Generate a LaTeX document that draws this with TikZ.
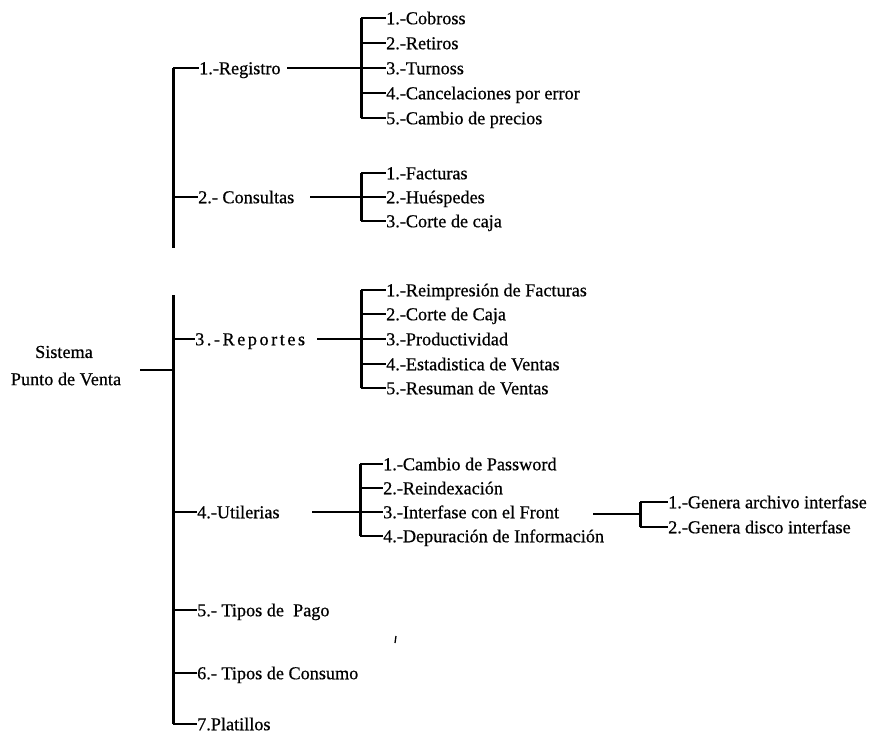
\documentclass[tikz,border=0pt]{standalone}
\usepackage{fontspec}
\setmainfont{Liberation Serif}
\newcommand{\chartfont}{\fontsize{18.2}{21}\selectfont\addfontfeature{FakeBold=0.6}}
\begin{document}
\begin{tikzpicture}[x=1pt,y=-1pt,
  lbl/.style={anchor=west,inner sep=0pt,text height=12.5pt,text depth=0pt,
              font=\chartfont},
  rootlbl/.style={inner sep=0pt,font=\chartfont},
  spaced/.style={font=\chartfont\addfontfeature{LetterSpace=14}},
  wire/.style={line width=2.3pt},
  trunk/.style={line width=3pt}]
\useasboundingbox (0,0) rectangle (878,740);

% ---------- root ----------
\node[rootlbl] (root1) at (64,352) {Sistema};
\node[rootlbl] (root2) at (66,379) {Punto de Venta};
\coordinate (rootout) at (140,370);
\coordinate (jroot) at (173,370);
\draw[wire] (rootout) -- (jroot);

% ---------- main trunk (two segments) ----------
\coordinate (ttop) at (173,68);
\coordinate (tmid) at (173,248);
\coordinate (btop) at (173,295);
\coordinate (bbot) at (173,724);
\draw[trunk] (ttop) -- (tmid);
\draw[trunk] (btop) -- (bbot);

% ---------- first level ----------
\node[lbl] (reg)  at (199,68)  {1.-Registro};
\node[lbl] (con)  at (198,197) {2.- Consultas};
\node[lbl,spaced] (rep) at (195,339) {3.-Reportes};
\node[lbl] (uti)  at (197,512) {4.-Utilerias};
\node[lbl] (pag)  at (197,610) {5.- Tipos de\ \ Pago};
\node[lbl] (cons) at (197,673) {6.- Tipos de Consumo};
\node[lbl] (pla)  at (197,724) {7.Platillos};

\coordinate (jreg)  at (173,68);
\coordinate (jcon)  at (173,197);
\coordinate (jrep)  at (173,339);
\coordinate (juti)  at (173,512);
\coordinate (jpag)  at (173,610);
\coordinate (jcons) at (173,673);
\coordinate (jpla)  at (173,724);
\foreach \j/\n in {jreg/reg,jcon/con,jrep/rep,juti/uti,jpag/pag,jcons/cons,jpla/pla}
  \draw[wire] (\j) -- (\n);

% ---------- Registro ----------
\coordinate (regout) at (287,68);
\coordinate (regbus) at (361,68);
\draw[wire] (regout) -- (regbus);
\coordinate (rega) at (361,18);
\coordinate (regb) at (361,118);
\draw[trunk] (rega) -- (regb);
\node[lbl] (r1) at (386,18)  {1.-Cobross};
\node[lbl] (r2) at (386,43)  {2.-Retiros};
\node[lbl] (r3) at (386,68)  {3.-Turnoss};
\node[lbl] (r4) at (386,93)  {4.-Cancelaciones por error};
\node[lbl] (r5) at (386,118) {5.-Cambio de precios};

% ---------- Consultas ----------
\coordinate (conout) at (310,197);
\coordinate (conbus) at (361,197);
\draw[wire] (conout) -- (conbus);
\coordinate (cona) at (361,173);
\coordinate (conb) at (361,221);
\draw[trunk] (cona) -- (conb);
\node[lbl] (c1) at (386,173) {1.-Facturas};
\node[lbl] (c2) at (386,197) {2.-Huéspedes};
\node[lbl] (c3) at (386,221) {3.-Corte de caja};

% ---------- Reportes ----------
\coordinate (repout) at (317,339);
\coordinate (repbus) at (361,339);
\draw[wire] (repout) -- (repbus);
\coordinate (repa) at (361,290);
\coordinate (repb) at (361,388);
\draw[trunk] (repa) -- (repb);
\node[lbl] (p1) at (386,290) {1.-Reimpresión de Facturas};
\node[lbl] (p2) at (386,314) {2.-Corte de Caja};
\node[lbl] (p3) at (386,339) {3.-Productividad};
\node[lbl] (p4) at (386,364) {4.-Estadistica de Ventas};
\node[lbl] (p5) at (386,388) {5.-Resuman de Ventas};

% ---------- Utilerias ----------
\coordinate (utiout) at (312,512);
\coordinate (utibus) at (360,512);
\draw[wire] (utiout) -- (utibus);
\coordinate (utia) at (360,464);
\coordinate (utib) at (360,536);
\draw[trunk] (utia) -- (utib);
\node[lbl] (u1) at (383,464) {1.-Cambio de Password};
\node[lbl] (u2) at (383,488) {2.-Reindexación};
\node[lbl] (u3) at (383,512) {3.-Interfase con el Front};
\node[lbl] (u4) at (383,536) {4.-Depuración de Información};

% ---------- Interfase con el Front ----------
\coordinate (intout) at (593,514);
\coordinate (intbus) at (640,514);
\draw[wire] (intout) -- (intbus);
\coordinate (inta) at (640,502);
\coordinate (intb) at (640,527);
\draw[trunk] (inta) -- (intb);
\node[lbl] (i1) at (668,502) {1.-Genera archivo interfase};
\node[lbl] (i2) at (668,527) {2.-Genera disco interfase};

% item stubs from each bus to its labels
\foreach \b/\n in {rega/r1,regb/r5,cona/c1,conb/c3,repa/p1,repb/p5,utia/u1,utib/u4,inta/i1,intb/i2}
  \draw[wire] (\b) -- (\n);
\foreach \n in {r2,r3,r4}
  \draw[wire] (\n.west -| regbus) -- (\n);
\draw[wire] (c2.west -| conbus) -- (c2);
\foreach \n in {p2,p3,p4}
  \draw[wire] (\n.west -| repbus) -- (\n);
\foreach \n in {u2,u3}
  \draw[wire] (\n.west -| utibus) -- (\n);

% small stray tick
\coordinate (ticka) at (396,636);
\coordinate (tickb) at (395,643);
\draw[line width=1.3pt] (ticka) -- (tickb);
\end{tikzpicture}
\end{document}
